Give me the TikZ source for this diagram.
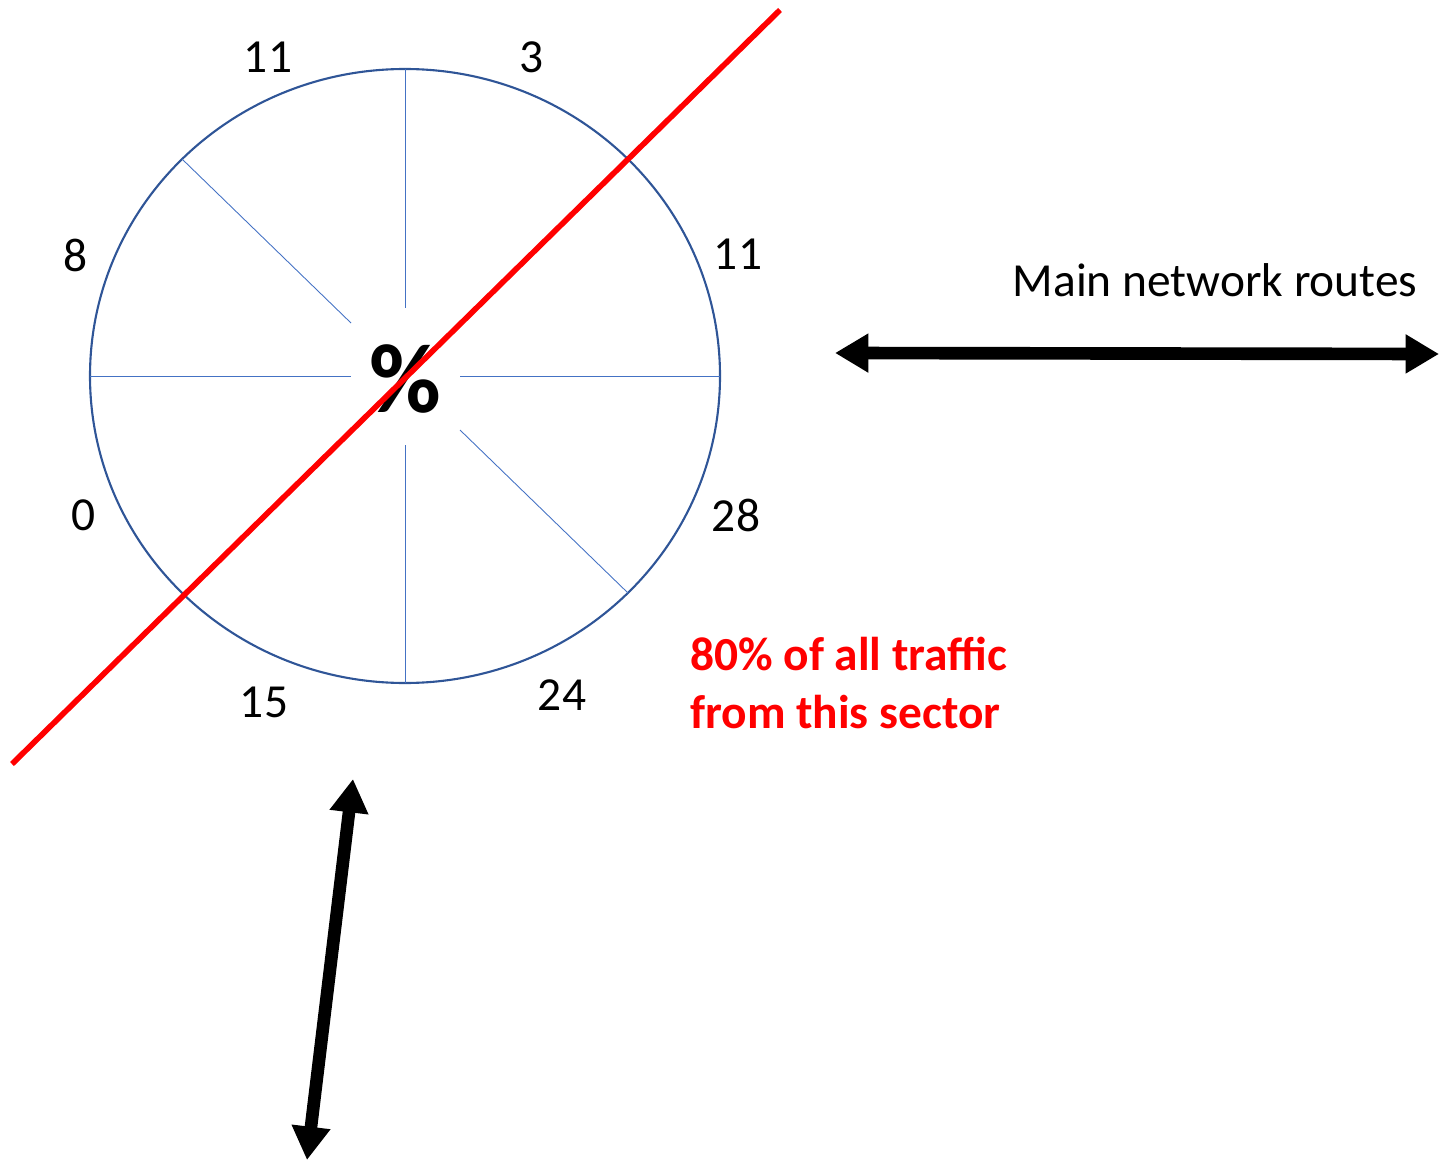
\documentclass[tikz,border=0pt]{standalone}
\usepackage{fontspec}
\setmainfont{Carlito}
\usetikzlibrary{arrows.meta}
\definecolor{rimblue}{HTML}{2F5597}
\definecolor{spokeblue}{HTML}{4472C4}

\begin{document}
\begin{tikzpicture}[x=0.02cm, y=-0.02cm,
    rim/.style={draw=rimblue, line width=1.2pt},
    spoke/.style={draw=spokeblue, line width=0.5pt},
    share/.style={font=\fontsize{27}{32}\selectfont},
    remark/.style={font=\fontsize{27}{32.5}\selectfont\bfseries, text=red, align=left},
    cut/.style={draw=red, line width=3.2pt},
    route/.style={line width=7.2pt, {Triangle[length=19pt,width=21pt]}-{Triangle[length=19pt,width=21pt]}}
]
\useasboundingbox (0,0) rectangle (1439,1162);

% Sector circle
\coordinate (c) at (405,376);
\draw[rim] (c) ellipse [x radius=315, y radius=307];

% Spokes
\draw[spoke] (405,69) -- (405,308);
\draw[spoke] (405,445) -- (405,683);
\draw[spoke] (90,376) -- (351,376);
\draw[spoke] (460,376) -- (720,376);
\draw[spoke] (182,159) -- (351,323);
\draw[spoke] (460,430) -- (628,593);

% Centre label
\node[font=\fontsize{56}{60}\selectfont\bfseries] (pct) at (405,379) {\%};

% Shares per sector
\node[share] (s1) at (268,57) {11};
\node[share] (s2) at (532,57) {3};
\node[share] (s3) at (738,254) {11};
\node[share] (s4) at (736,515) {28};
\node[share] (s5) at (562,695) {24};
\node[share] (s6) at (264,702) {15};
\node[share] (s7) at (84,515) {0};
\node[share] (s8) at (76,255) {8};

% Dividing line
\coordinate (cuta) at (780,10);
\coordinate (cutb) at (12,764);
\draw[cut] (cuta) -- (cutb);

\node[remark, anchor=west] (note) at (684,683) {80\% of all traffic\\from this sector};

% Main network routes
\node[share] (routes) at (1215,280) {Main network routes};
\coordinate (ra) at (835,353);
\coordinate (rb) at (1439,354);
\draw[route] (ra) -- (rb);

\coordinate (va) at (353,779);
\coordinate (vb) at (307,1160);
\draw[route] (va) -- (vb);

\end{tikzpicture}
\end{document}
